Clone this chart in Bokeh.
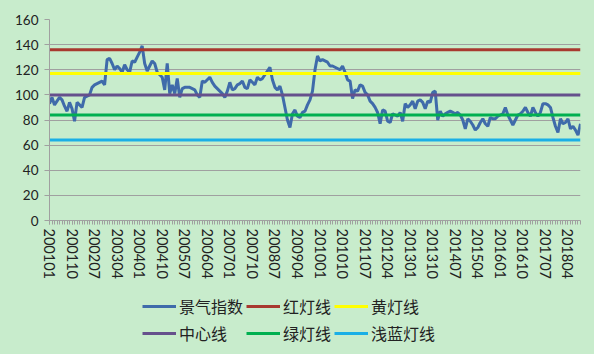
from bokeh.plotting import figure
from bokeh.layouts import column
from bokeh.models import Range1d, FixedTicker, SingleIntervalTicker, Legend, LegendItem, ColumnDataSource
from bokeh.embed import file_html
from bokeh.resources import INLINE

# ---- data ----
months = [f"{y}{m:02d}" for y in range(2001, 2019) for m in range(1, 13)][:213]

index_values = [
    93, 98, 92, 95, 98, 96, 91, 87, 94, 89, 79, 94,
    92, 90, 98, 99, 100, 106, 108, 109, 110, 111, 108, 128,
    129, 125, 120, 123, 121, 118, 124, 120, 118, 127, 126, 130,
    134, 139, 125, 119, 123, 127, 125, 118, 116, 114, 104, 125,
    101, 108, 101, 113, 98, 105, 106, 106, 106, 105, 104, 100,
    98, 111, 110, 112, 114, 110, 107, 105, 103, 101, 98, 103,
    110, 104, 105, 108, 109, 111, 106, 105, 112, 110, 108, 114,
    112, 113, 116, 119, 122, 112, 106, 104, 107, 100, 90, 80,
    74, 85, 88, 83, 82, 86, 87, 92, 96, 103, 120, 131,
    127, 128, 127, 126, 123, 123, 122, 121, 120, 123, 118, 112,
    111, 97, 104, 103, 108, 107, 102, 100, 95, 93, 90, 86,
    77, 88, 87, 79, 78, 85, 84, 83, 86, 79, 93, 90,
    92, 95, 89, 95, 96, 94, 89, 95, 94, 102, 103, 80,
    87, 83, 85, 86, 87, 86, 85, 86, 84, 80, 73, 81,
    79, 76, 72, 74, 78, 81, 77, 75, 82, 81, 81, 83,
    84, 85, 90, 84, 80, 76, 80, 84, 85, 87, 90, 86,
    83, 90, 86, 83, 86, 93, 93, 92, 90, 82, 75, 70,
    81, 77, 78, 81, 73, 75, 72, 68, 77,
]

red_level = 136
yellow_level = 117
center_level = 100
green_level = 84
lightblue_level = 64

tick_labels = ["200101", "200110", "200207", "200304", "200401", "200410",
               "200507", "200604", "200701", "200710", "200807", "200904",
               "201001", "201010", "201107", "201204", "201301", "201310",
               "201407", "201504", "201601", "201610", "201707", "201804"]

series_names = ["景气指数", "红灯线", "黄灯线", "中心线", "绿灯线", "浅蓝灯线"]
colors = ["#3F6BAA", "#A8392F", "#FFFF00", "#66508C", "#00B050", "#1AAFE6"]

# ---- build ----
n = len(months)
xs = list(range(n))
src = ColumnDataSource(dict(
    x=xs,
    idx=index_values,
    red=[red_level] * n,
    yellow=[yellow_level] * n,
    center=[center_level] * n,
    green=[green_level] * n,
    lightblue=[lightblue_level] * n,
))

bg = "#C8ECCC"
p = figure(width=594, height=290, output_backend="svg", toolbar_location=None,
           x_range=Range1d(0, n - 1), y_range=Range1d(0, 160),
           min_border_left=49, min_border_right=14, min_border_top=19, min_border_bottom=70,
           background_fill_color=bg, border_fill_color=bg, outline_line_color=None)

cols = ["idx", "red", "yellow", "center", "green", "lightblue"]
for c, col in zip(cols, colors):
    p.line("x", c, source=src, line_color=col, line_width=3)

# axes
p.yaxis.ticker = SingleIntervalTicker(interval=20)
p.yaxis.axis_line_color = "#A0A0A0"
p.yaxis.major_tick_line_color = "#A0A0A0"
p.yaxis.major_tick_out = 5
p.yaxis.major_tick_in = 0
p.yaxis.minor_tick_line_color = None
p.yaxis.major_label_text_font = "Lato"
p.yaxis.major_label_text_font_size = "13.5px"
p.yaxis.major_label_text_color = "#222222"
p.yaxis.major_label_standoff = 6

tick_pos = [months.index(t) for t in tick_labels]
p.xaxis.ticker = FixedTicker(ticks=tick_pos, minor_ticks=xs)
p.xaxis.major_label_overrides = {i: months[i] for i in tick_pos}
p.xaxis.major_label_orientation = "vertical"
p.xaxis.axis_line_color = "#A0A0A0"
p.xaxis.major_tick_line_color = "#A0A0A0"
p.xaxis.minor_tick_line_color = "#A0A0A0"
p.xaxis.major_tick_out = 4
p.xaxis.major_tick_in = 0
p.xaxis.minor_tick_out = 4
p.xaxis.minor_tick_in = 0
p.xaxis.major_label_text_font = "Lato"
p.xaxis.major_label_text_font_size = "14.5px"
p.xaxis.major_label_text_color = "#222222"
p.xaxis.major_label_standoff = 4

p.xgrid.grid_line_color = None
p.ygrid.ticker = SingleIntervalTicker(interval=20)
p.ygrid.grid_line_color = "#A0A0A0"
p.ygrid.grid_line_width = 1

# ---- legend panel ----
q = figure(width=594, height=64, output_backend="svg", toolbar_location=None,
           x_range=Range1d(0, 1), y_range=Range1d(0, 1),
           x_axis_location=None, y_axis_location=None,
           min_border=0, background_fill_color=bg, border_fill_color=bg,
           outline_line_color=None)
q.xgrid.visible = False
q.ygrid.visible = False
items = []
for nm, col in zip(series_names, colors):
    r = q.line([-5, -4], [-5, -4], line_color=col, line_width=3)
    items.append(LegendItem(label=nm, renderers=[r]))
legend = Legend(items=items, orientation="horizontal", ncols=3,
                location=(93, 9), background_fill_alpha=0, border_line_alpha=0,
                label_text_font="Noto Sans CJK SC", label_text_font_size="16px",
                label_text_color="#222222", glyph_width=34, glyph_height=20,
                label_height=20, label_standoff=3, spacing=3, padding=0, margin=0)
q.add_layout(legend, "center")

layout = column(p, q, spacing=0, styles={"background-color": bg})
html = file_html(layout, INLINE)
html = html.replace("<head>", "<head><style>html,body{background:%s;margin:0;padding:0}</style>" % bg, 1)
open("out.html", "w").write(html)
